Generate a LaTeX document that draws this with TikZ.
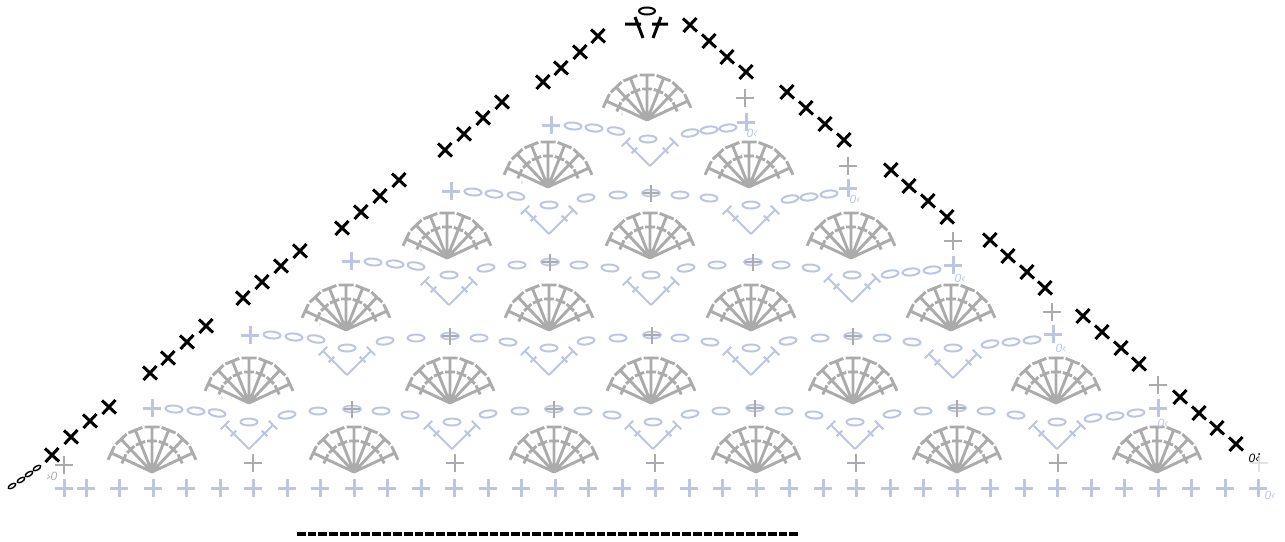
\documentclass[tikz,border=0pt]{standalone}
\usepackage{fontspec}
\setmainfont{Liberation Sans}
\definecolor{grayst}{HTML}{ABABAB}
\definecolor{bluest}{HTML}{BCC5E1}
\tikzset{
  x=1pt,y=-1pt,
  blueline/.style={draw=bluest,line width=2pt},
  grayline/.style={draw=grayst,line width=2.9pt},
  blackline/.style={draw=black,line width=3pt},
  smalllabel/.style={font=\itshape\fontsize{12}{12}\selectfont,inner sep=0pt},
}
\begin{document}
\begin{tikzpicture}
\useasboundingbox (0,0) rectangle (1285,541);
% base row
\draw[draw=bluest,line width=3pt] foreach \x in {64,86,119,153,186,220,253,287,320,354,387,421,454,488,521,555,588,622,655,689,722,756,789,823,856,890,923,957,990,1024,1057,1091,1124,1158,1191,1225,1258} {(\x-9,488)--(\x+9,488) (\x,479)--(\x,497)};
% fans
\draw[grayline] foreach \x/\y in {647/120,548/187,749/187,447/258,650/258,851/258,346/330,549/330,751/330,951/330,249/403,450/403,651/403,853/403,1056/403,152/472,354/472,554/472,756/472,957/472,1157/472} {
  foreach \a in {25,46.7,68.3,90,111.7,133.3,155} {
    {[shift={(\x,\y)},rotate=\a] (0,0)--(45,0) (45,-7.5)--(45,7.5) (31,-5)--(31,5)}
  }
};
\fill[grayst] foreach \x/\y in {647/120,548/187,749/187,447/258,650/258,851/258,346/330,549/330,751/330,951/330,249/403,450/403,651/403,853/403,1056/403,152/472,354/472,554/472,756/472,957/472,1157/472} {
  (\x-8,\y-3)--(\x+8,\y-3)--(\x,\y+1)--cycle
};
% gray plus stitches
\draw[draw=grayst,line width=2.7pt] foreach \x/\y in {64/465,253/463,455/463,655/463,856/463,1058/463,745/98,848/166,953/241,1052/312,1158/385} {(\x-9,\y)--(\x+9,\y) (\x,\y-9)--(\x,\y+9)};
\draw[draw=grayst!35,line width=2.7pt] (1250,463)--(1268,463) (1259,454)--(1259,472);
% blue plus stitches at row ends
\draw[draw=bluest,line width=3pt] foreach \x/\y in {551/125,746/122,451/191,848/188,351/261,953/265,250/335,1053/334,152/408,1158/408} {(\x-9,\y)--(\x+9,\y) (\x,\y-9)--(\x,\y+9)};
% vees
\draw[blueline] foreach \x/\y in {650/166,549/234,751/234,449/305,651/305,852/302,347/375,549/375,751/375,953/378,249/449,452/449,653/449,855/449,1057/449} {
  foreach \a in {45,135} {
    {[shift={(\x,\y)},rotate=\a] (0,0)--(34,0) (34,-6)--(34,6) (22,-4)--(22,4)}
  }
};
% ovals over vees
\draw[blueline] foreach \x/\y in {648/139,549/205,751/205,449/275,651/275,852/275,347/348,549/348,751/348,953/348,249/422,452/422,653/422,855/422,1057/422} {(\x,\y) ellipse [x radius=8.5,y radius=3.5]};
% chain ovals
\draw[blueline] foreach \x/\y/\r in {573/126/-5,594/128/-6,616/131/-10,690/133/10,709/130/6,728/128/6,
  473/192/-5,494/194/-6,516/196/-10,586/198/8,618/195/0,680/195/0,709/198/-5,790/199/10,809/197/6,829/194/6,
  373/262/-5,395/264/-6,416/266/-10,486/268/8,517/265/0,579/265/0,610/268/-5,686/268/8,717/265/0,781/265/0,811/268/-5,890/274/10,911/272/6,932/270/6,
  272/335/-5,294/337/-6,316/339/-10,385/341/8,416/338/0,479/338/0,508/342/-5,586/341/8,618/338/0,680/338/0,710/342/-5,788/341/8,820/338/0,882/338/0,912/342/-5,990/344/10,1011/342/6,1032/340/6,
  174/409/-5,196/411/-6,217/413/-10,287/415/8,318/411/0,381/411/0,410/415/-5,488/414/8,520/411/0,583/411/0,612/415/-5,690/414/8,721/411/0,784/411/0,814/415/-5,892/414/8,923/411/0,986/411/0,1016/415/-5,1093/418/10,1115/416/6,1136/413/6} {
  {[rotate around={\r:(\x,\y)}] (\x,\y) ellipse [x radius=8.5,y radius=3.5]}
};
% plus inside oval
\draw[draw=bluest,line width=1.6pt,fill=bluest!30] foreach \x/\y in {651/193,550/262,753/262,450/336,652/335,853/336,352/409,554/409,755/408,957/408} {(\x,\y) ellipse [x radius=9,y radius=3.5]};
\draw[draw=grayst,line width=1.8pt] foreach \x/\y in {651/193,550/262,753/262,450/336,652/335,853/336,352/409,554/409,755/408,957/408} {(\x-8,\y)--(\x+8,\y) (\x,\y-8.5)--(\x,\y+8.5)};
% black X stitches
\draw[blackline] foreach \x/\y in {52/455,71/437,90/421,109/407,150/373,168/358,187/342,206/326,243/298,262/282,281/266,300/251,342/228,361/212,380/196,399/180,445/150,464/134,483/118,502/102,543/82,561/68,580/52,598/36,690/25,709/41,727/57,746/72,787/92,806/108,825/124,844/140,891/170,909/186,928/201,947/217,990/240,1008/256,1027/272,1045/288,1083/316,1102/332,1121/348,1139/364,1180/397,1199/413,1217/428,1236/444} {
  (\x-7,\y-6.5)--(\x+7,\y+6.5) (\x+6.5,\y-7)--(\x-6.5,\y+7)
};
% top stitches
\draw[blackline] (625,24)--(641,24) (635,17)--(643,38);
\draw[blackline] (652,24)--(668,24) (661,17)--(653,38);
\draw[draw=black,line width=2pt] (647,11) ellipse [x radius=8,y radius=3.5];
% black starting chain
\draw[draw=black,line width=1.4pt] foreach \x/\y in {12/486,21/480,29/474,37/468} {
  {[rotate around={30:(\x,\y)}] (\x,\y) ellipse [x radius=4.2,y radius=2]}
};
% small labels
\foreach \n/\x/\y in {a/752/133,b/855/199,c/960/278,d/1061/348,e/1163/423,f/1270/495}
  \node[smalllabel,text=bluest] (lab\n) at (\x,\y) {0‹};
\node[smalllabel,text=grayst] (labg) at (52,476) {›0};
\node[smalllabel,text=black] (labk) at (1254,458) {0‹};
\fill[black] (1259,454) circle [radius=1];
\foreach \n/\x/\y in {a/622/115,b/522/183,c/421/251,d/320/325,e/222/399}
  \node[smalllabel,text=grayst,font=\fontsize{7}{7}\selectfont] (tick\n) at (\x,\y) {›};
% dashed rule
\draw[draw=black,line width=3.2pt,dash pattern=on 8.7pt off 2pt] (297,534)--(798,534);
\end{tikzpicture}
\end{document}
